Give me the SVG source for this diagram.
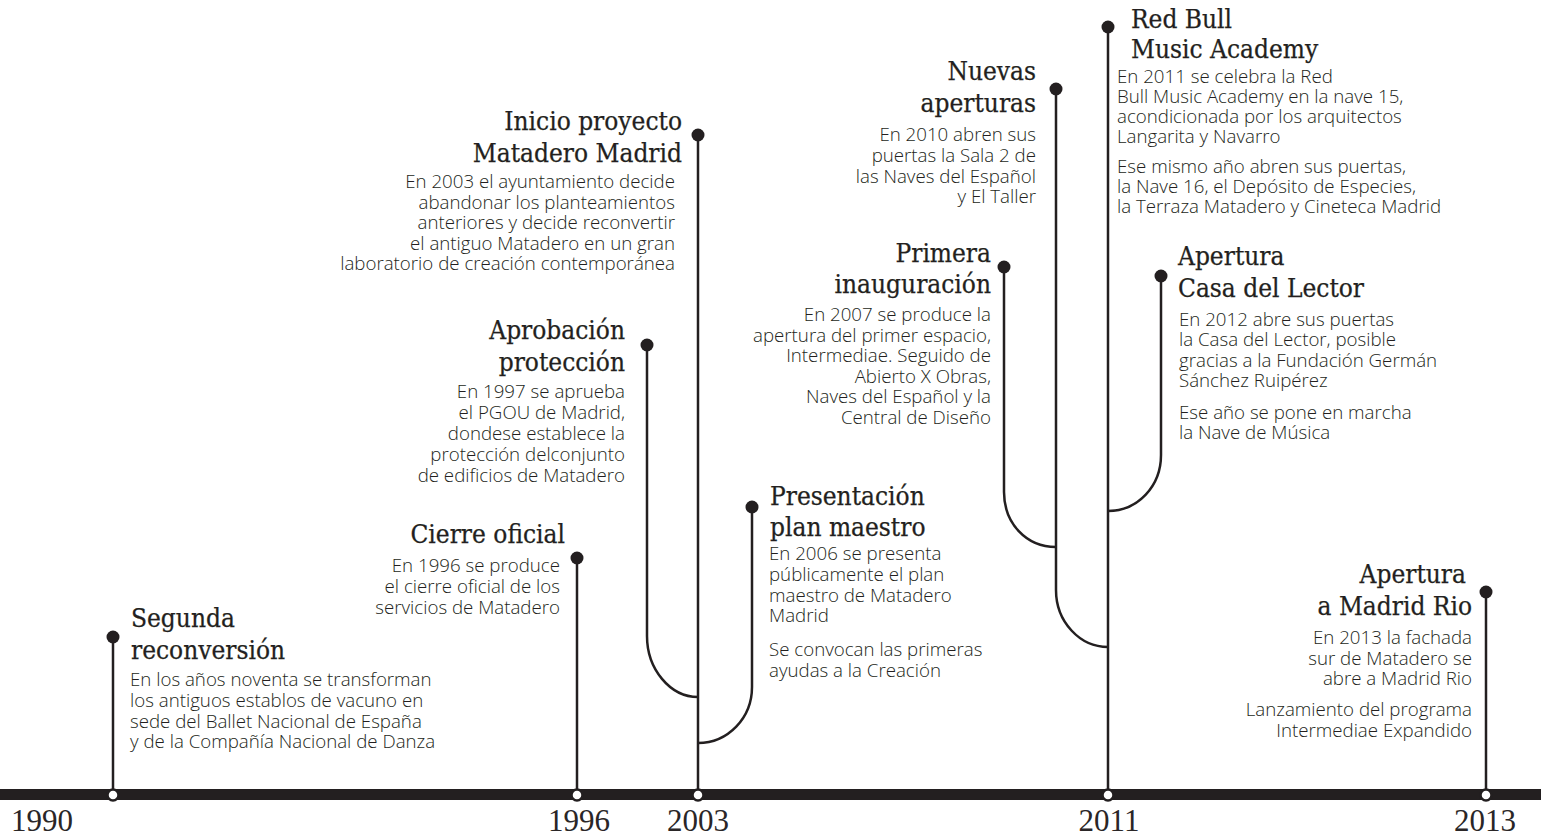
<svg xmlns="http://www.w3.org/2000/svg" width="1541" height="835" viewBox="0 0 1541 835">
<style>
.t{font-family:"DejaVu Serif Condensed","DejaVu Serif",serif;font-stretch:condensed;font-size:26px;fill:#231f20;stroke:#231f20;stroke-width:0.25}
.b{font-family:"Open Sans","Liberation Sans",sans-serif;font-size:18.7px;font-weight:300;fill:#231f20}
.e{text-anchor:end}
.y{font-family:"Liberation Serif",serif;font-size:31px;fill:#2a2627;text-anchor:middle}
.ln{fill:none;stroke:#231f20;stroke-width:2.5}
.dot{fill:#231f20}
.oc{fill:#fff;stroke:#231f20;stroke-width:2.5}
</style>
<rect x="0" y="789" width="1541" height="11" fill="#231f20"/>
<g id="connectors">
<path class="ln" d="M113,637V795"/>
<path class="ln" d="M577,558V795"/>
<path class="ln" d="M698,135V795"/>
<path class="ln" d="M1108,27V795"/>
<path class="ln" d="M1486,592V795"/>
<path class="ln" d="M647,345V636C647,669 670,697 698,697"/>
<path class="ln" d="M752,507V687C752,718 728,743 698,743"/>
<path class="ln" d="M1004,267V492C1004,523 1026,547 1056,547"/>
<path class="ln" d="M1056,89V590C1056,622 1080,647 1108,647"/>
<path class="ln" d="M1161,276V455C1161,486 1138,511 1108,511"/>
</g>
<g id="axis">
<circle class="oc" cx="113" cy="795" r="5.5"/>
<circle class="oc" cx="577" cy="795" r="5.5"/>
<circle class="oc" cx="698" cy="795" r="5.5"/>
<circle class="oc" cx="1108" cy="795" r="5.5"/>
<circle class="oc" cx="1486" cy="795" r="5.5"/>
<text x="42" y="831" class="y">1990</text>
<text x="579" y="831" class="y">1996</text>
<text x="698" y="831" class="y">2003</text>
<text x="1109" y="831" class="y">2011</text>
<text x="1485" y="831" class="y">2013</text>
</g>
<g id="segunda">
<circle class="dot" cx="113" cy="637" r="6.5"/>
<text class="t" x="131" y="627"><tspan x="131">Segunda</tspan><tspan x="131" dy="32">reconversión</tspan></text>
<text class="b" x="130" y="686"><tspan x="130">En los años noventa se transforman</tspan><tspan x="130" dy="20.8">los antiguos establos de vacuno en</tspan><tspan x="130" dy="20.8">sede del Ballet Nacional de España</tspan><tspan x="130" dy="20.8">y de la Compañía Nacional de Danza</tspan></text>
</g>
<g id="cierre">
<circle class="dot" cx="577" cy="558" r="6.5"/>
<text class="t e" x="565" y="543">Cierre oficial</text>
<text class="b e" x="560" y="572"><tspan x="560">En 1996 se produce</tspan><tspan x="560" dy="21">el cierre oficial de los</tspan><tspan x="560" dy="21">servicios de Matadero</tspan></text>
</g>
<g id="aprobacion">
<circle class="dot" cx="647" cy="345" r="6.5"/>
<text class="t e" x="625" y="339"><tspan x="625">Aprobación</tspan><tspan x="625" dy="32">protección</tspan></text>
<text class="b e" x="625" y="398"><tspan x="625">En 1997 se aprueba</tspan><tspan x="625" dy="21">el PGOU de Madrid,</tspan><tspan x="625" dy="21">dondese establece la</tspan><tspan x="625" dy="21">protección delconjunto</tspan><tspan x="625" dy="21">de edificios de Matadero</tspan></text>
</g>
<g id="inicio">
<circle class="dot" cx="698" cy="135" r="6.5"/>
<text class="t e" x="682" y="130"><tspan x="682">Inicio proyecto</tspan><tspan x="682" dy="32">Matadero Madrid</tspan></text>
<text class="b e" x="675" y="188"><tspan x="675">En 2003 el ayuntamiento decide</tspan><tspan x="675" dy="20.5">abandonar los planteamientos</tspan><tspan x="675" dy="20.5">anteriores y decide reconvertir</tspan><tspan x="675" dy="20.5">el antiguo Matadero en un gran</tspan><tspan x="675" dy="20.5">laboratorio de creación contemporánea</tspan></text>
</g>
<g id="presentacion">
<circle class="dot" cx="752" cy="507" r="6.5"/>
<text class="t" x="770" y="505"><tspan x="770">Presentación</tspan><tspan x="770" dy="31">plan maestro</tspan></text>
<text class="b" x="769" y="560"><tspan x="769">En 2006 se presenta</tspan><tspan x="769" dy="20.8">públicamente el plan</tspan><tspan x="769" dy="20.8">maestro de Matadero</tspan><tspan x="769" dy="20.8">Madrid</tspan></text>
<text class="b" x="769" y="656"><tspan x="769">Se convocan las primeras</tspan><tspan x="769" dy="21">ayudas a la Creación</tspan></text>
</g>
<g id="primera">
<circle class="dot" cx="1004" cy="267" r="6.5"/>
<text class="t e" x="991" y="262"><tspan x="991">Primera</tspan><tspan x="991" dy="31">inauguración</tspan></text>
<text class="b e" x="991" y="321"><tspan x="991">En 2007 se produce la</tspan><tspan x="991" dy="20.5">apertura del primer espacio,</tspan><tspan x="991" dy="20.5">Intermediae. Seguido de</tspan><tspan x="991" dy="20.5">Abierto X Obras,</tspan><tspan x="991" dy="20.5">Naves del Español y la</tspan><tspan x="991" dy="20.5">Central de Diseño</tspan></text>
</g>
<g id="nuevas">
<circle class="dot" cx="1056" cy="89" r="6.5"/>
<text class="t e" x="1036" y="80"><tspan x="1036">Nuevas</tspan><tspan x="1036" dy="32">aperturas</tspan></text>
<text class="b e" x="1036" y="141"><tspan x="1036">En 2010 abren sus</tspan><tspan x="1036" dy="20.8">puertas la Sala 2 de</tspan><tspan x="1036" dy="20.8">las Naves del Español</tspan><tspan x="1036" dy="20.8">y El Taller</tspan></text>
</g>
<g id="redbull">
<circle class="dot" cx="1108" cy="27" r="6.5"/>
<text class="t" x="1131" y="28"><tspan x="1131">Red Bull</tspan><tspan x="1131" dy="30">Music Academy</tspan></text>
<text class="b" x="1117" y="82.5"><tspan x="1117">En 2011 se celebra la Red</tspan><tspan x="1117" dy="20">Bull Music Academy en la nave 15,</tspan><tspan x="1117" dy="20">acondicionada por los arquitectos</tspan><tspan x="1117" dy="20">Langarita y Navarro</tspan></text>
<text class="b" x="1117" y="172.5"><tspan x="1117">Ese mismo año abren sus puertas,</tspan><tspan x="1117" dy="20">la Nave 16, el Depósito de Especies,</tspan><tspan x="1117" dy="20">la Terraza Matadero y Cineteca Madrid</tspan></text>
</g>
<g id="casa">
<circle class="dot" cx="1161" cy="276" r="6.5"/>
<text class="t" x="1178" y="265"><tspan x="1178">Apertura</tspan><tspan x="1178" dy="32">Casa del Lector</tspan></text>
<text class="b" x="1179" y="325.5"><tspan x="1179">En 2012 abre sus puertas</tspan><tspan x="1179" dy="20.5">la Casa del Lector, posible</tspan><tspan x="1179" dy="20.5">gracias a la Fundación Germán</tspan><tspan x="1179" dy="20.5">Sánchez Ruipérez</tspan></text>
<text class="b" x="1179" y="419"><tspan x="1179">Ese año se pone en marcha</tspan><tspan x="1179" dy="20">la Nave de Música</tspan></text>
</g>
<g id="rio">
<circle class="dot" cx="1486" cy="592" r="6.5"/>
<text class="t e" x="1466" y="583"><tspan x="1466">Apertura</tspan><tspan x="1472" dy="32">a Madrid Rio</tspan></text>
<text class="b e" x="1472" y="644"><tspan x="1472">En 2013 la fachada</tspan><tspan x="1472" dy="20.5">sur de Matadero se</tspan><tspan x="1472" dy="20.5">abre a Madrid Rio</tspan></text>
<text class="b e" x="1472" y="716"><tspan x="1472">Lanzamiento del programa</tspan><tspan x="1472" dy="20.5">Intermediae Expandido</tspan></text>
</g>
</svg>
